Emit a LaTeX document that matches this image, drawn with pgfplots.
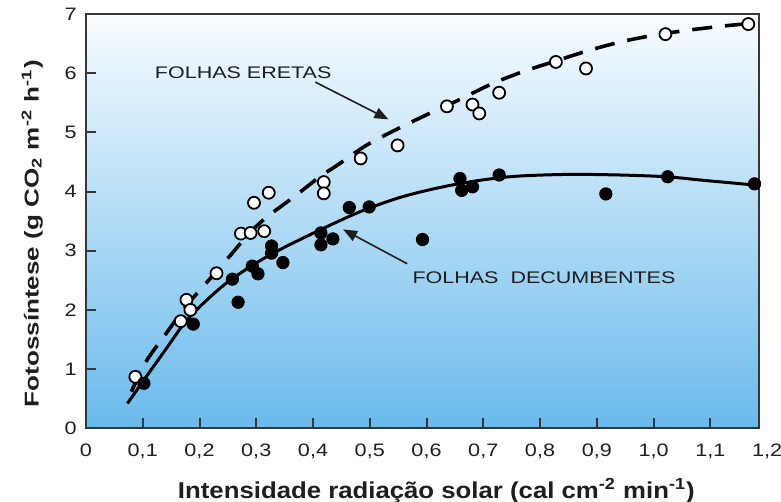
\documentclass[border=0pt]{standalone}
\usepackage{pgfplots}
\pgfplotsset{compat=1.18}
\usepackage{fontspec}
\setmainfont{Liberation Sans}
\usetikzlibrary{arrows.meta}
\definecolor{bgtop}{RGB}{248,252,255}
\definecolor{bgbot}{RGB}{106,186,236}
\definecolor{framec}{RGB}{55,55,55}
\definecolor{txt}{RGB}{30,30,30}
\newcommand\sx[1]{\scalebox{1.2}[1]{#1}}
\newcommand\sa[1]{\scalebox{1.28}[1]{#1}}

\begin{document}
\begin{tikzpicture}
\begin{axis}[
  scale only axis, width=336.25pt, height=207.15pt,
  xmin=0, xmax=1.185, ymin=0, ymax=7,
  clip=false,
  axis background/.style={top color=bgtop, bottom color=bgbot},
  axis line style={framec, line width=1pt},
  tick align=inside, xtick pos=bottom, ytick pos=left,
  major tick length=5pt,
  tick style={framec, line width=1pt},
  xtick={0,0.1,0.2,0.3,0.4,0.5,0.6,0.7,0.8,0.9,1.0,1.1},
  xticklabels={\sx{0},\sx{0,1},\sx{0,2},\sx{0,3},\sx{0,4},\sx{0,5},\sx{0,6},\sx{0,7},\sx{0,8},\sx{0,9},\sx{1,0},\sx{1,1}},
  ytick={0,1,2,3,4,5,6,7},
  yticklabels={\sx{0},\sx{1},\sx{2},\sx{3},\sx{4},\sx{5},\sx{6},\sx{7}},
  ticklabel style={font=\fontsize{9}{10}\selectfont, text=txt},
  xticklabel style={anchor=north, inner sep=0pt, yshift=-7.5pt},
  yticklabel style={anchor=east, inner sep=0pt, xshift=-4.5pt},
  xlabel={\scalebox{1.12}[1]{Intensidade radiação solar (cal cm\textsuperscript{-2} min\textsuperscript{-1})}},
  ylabel={\scalebox{1.3}[1]{Fotossíntese (g CO\textsubscript{2} m\textsuperscript{-2} h\textsuperscript{-1})}},
  xlabel style={at={(axis description cs:0.521,-0.151)}, anchor=center, font=\bfseries\fontsize{11.5}{13}\selectfont, text=txt},
  ylabel style={at={(axis description cs:-0.0800,0.47)}, anchor=center, font=\bfseries\fontsize{10}{12}\selectfont, text=txt},
]
% fitted curve, folhas eretas (dashed)
\addplot[black, line width=1.8pt, dash pattern=on 10pt off 6.5pt, smooth, tension=0.5] coordinates {
(0.080,0.62) (0.106,1.13) (0.141,1.60) (0.176,2.06) (0.217,2.51) (0.256,2.94)
(0.288,3.30) (0.320,3.58) (0.365,3.90) (0.412,4.25) (0.442,4.44) (0.492,4.77)
(0.547,5.05) (0.603,5.31) (0.653,5.53) (0.715,5.82) (0.771,6.03) (0.829,6.21)
(0.888,6.39) (0.947,6.54) (1.006,6.65) (1.064,6.73) (1.126,6.80) (1.182,6.85)
};
% fitted curve, folhas decumbentes (solid)
\addplot[black, line width=1.5pt, smooth, tension=0.5] coordinates {
(0.073,0.42) (0.106,0.87) (0.141,1.34) (0.176,1.81) (0.211,2.15) (0.247,2.45)
(0.294,2.76) (0.342,3.02) (0.412,3.35) (0.483,3.66) (0.553,3.90) (0.624,4.07)
(0.694,4.19) (0.760,4.26) (0.850,4.29) (0.940,4.28) (1.023,4.25) (1.088,4.19)
(1.179,4.11)
};
% folhas eretas (open circles)
\addplot[only marks, mark=*, mark size=3pt, mark options={fill=white, draw=black, line width=0.9pt}] coordinates {
(0.087,0.87) (0.177,2.17) (0.167,1.81) (0.184,2.00) (0.230,2.62) (0.273,3.29)
(0.290,3.30) (0.314,3.33) (0.296,3.81) (0.322,3.98) (0.419,4.16) (0.419,3.97)
(0.484,4.56) (0.549,4.78) (0.636,5.44) (0.681,5.47) (0.693,5.32) (0.728,5.67)
(0.828,6.19) (0.881,6.08) (1.021,6.66) (1.167,6.83)
};
% folhas decumbentes (filled circles)
\addplot[only marks, mark=*, mark size=3.1pt, mark options={fill=black, draw=black}] coordinates {
(0.102,0.76) (0.189,1.76) (0.258,2.52) (0.268,2.13) (0.293,2.74) (0.303,2.61)
(0.327,3.08) (0.327,2.96) (0.347,2.80) (0.414,3.30) (0.414,3.10) (0.435,3.20)
(0.464,3.73) (0.499,3.74) (0.593,3.19) (0.659,4.22) (0.662,4.02) (0.681,4.08)
(0.728,4.28) (0.916,3.96) (1.025,4.25) (1.178,4.13)
};
\node[font=\fontsize{8.4}{10}\selectfont, text=txt] at (axis cs:0.277,6.0) {\sa{FOLHAS ERETAS}};
\draw[-{Triangle[length=7pt,width=5.5pt]}, line width=0.8pt, txt] (axis cs:0.404,5.85) -- (axis cs:0.533,5.22);
\node[font=\fontsize{8.4}{10}\selectfont, text=txt] at (axis cs:0.807,2.55) {\sa{FOLHAS\ \ DECUMBENTES}};
\draw[-{Triangle[length=7pt,width=5.5pt]}, line width=0.8pt, txt] (axis cs:0.566,2.78) -- (axis cs:0.453,3.36);
\node[anchor=north, inner sep=0pt, yshift=-7.5pt, font=\fontsize{9}{10}\selectfont, text=txt] at (axis cs:1.2,0) {\sx{1,2}};
\end{axis}
\pgfresetboundingbox
\useasboundingbox (-43pt,-36.85pt) rectangle (347.5pt,214.15pt);
\end{tikzpicture}
\end{document}
